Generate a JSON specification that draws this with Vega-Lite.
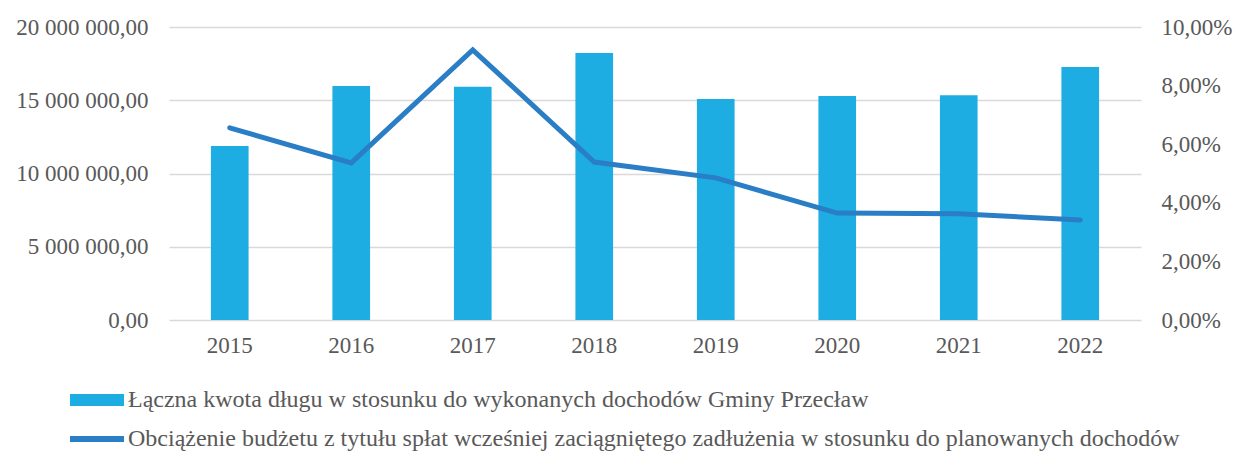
{
  "$schema": "https://vega.github.io/schema/vega-lite/v6.json",
  "width": 972,
  "height": 293,
  "autosize": {"type": "none"},
  "padding": {"left": 169, "top": 27, "right": 93, "bottom": 133},
  "background": "white",
  "config": {
    "view": {"stroke": null},
    "font": "Liberation Serif",
    "axis": {"labelFont": "Liberation Serif", "labelColor": "#595959", "labelFontSize": 23, "ticks": false, "domain": false, "gridColor": "#d9d9d9", "gridWidth": 1.5}
  },
  "data": {
    "values": [
      {"year": "2015", "debt": 11880000, "burden": 6.56},
      {"year": "2016", "debt": 15970000, "burden": 5.36},
      {"year": "2017", "debt": 15930000, "burden": 9.22},
      {"year": "2018", "debt": 18230000, "burden": 5.39},
      {"year": "2019", "debt": 15080000, "burden": 4.85},
      {"year": "2020", "debt": 15290000, "burden": 3.65},
      {"year": "2021", "debt": 15340000, "burden": 3.63},
      {"year": "2022", "debt": 17270000, "burden": 3.41}
    ]
  },
  "encoding": {
    "x": {
      "field": "year", "type": "ordinal", "title": null,
      "scale": {"paddingInner": 0.69, "paddingOuter": 0.345},
      "axis": {"labelAngle": 0, "labelPadding": 14, "grid": false}
    }
  },
  "layer": [
    {
      "transform": [{"calculate": "'Łączna kwota długu w stosunku do wykonanych dochodów Gminy Przecław'", "as": "series"}],
      "mark": {"type": "bar", "color": "#1EADE2"},
      "encoding": {
        "y": {
          "field": "debt", "type": "quantitative", "title": null,
          "scale": {"domain": [0, 20000000]},
          "axis": {"values": [0, 5000000, 10000000, 15000000, 20000000], "labelExpr": "replace(replace(format(datum.value, ',.2f'), regexp(',', 'g'), ' '), '.', ',')", "labelPadding": 21}
        },
        "color": {
          "field": "series", "type": "nominal",
          "scale": {"domain": ["Łączna kwota długu w stosunku do wykonanych dochodów Gminy Przecław", "Obciążenie budżetu z tytułu spłat wcześniej zaciągniętego zadłużenia w stosunku do planowanych dochodów"], "range": ["#1EADE2", "#2A7EC6"]},
          "legend": {
            "title": null, "orient": "none", "legendX": -99, "legendY": 346, "direction": "vertical",
            "labelFont": "Liberation Serif", "labelFontSize": 24, "labelColor": "#595959", "labelOffset": 4,
            "symbolSize": 2916, "rowPadding": -12, "labelLimit": 1200,
            "encode": {"symbols": {"update": {"shape": {"signal": "datum.index == 0 ? 'M-1,-0.22H1V0.22H-1Z' : 'M-1,-0.11H1V0.11H-1Z'"}, "strokeWidth": {"value": 0}}}}
          }
        }
      }
    },
    {
      "transform": [{"calculate": "'Obciążenie budżetu z tytułu spłat wcześniej zaciągniętego zadłużenia w stosunku do planowanych dochodów'", "as": "series"}],
      "mark": {"type": "line", "strokeWidth": 5, "strokeCap": "round", "strokeJoin": "miter"},
      "encoding": {
        "y": {
          "field": "burden", "type": "quantitative", "title": null,
          "scale": {"domain": [0, 10]},
          "axis": {"orient": "right", "grid": false, "values": [0, 2, 4, 6, 8, 10], "labelExpr": "replace(format(datum.value, '.2f'), '.', ',') + '%'", "labelPadding": 20}
        },
        "color": {"field": "series", "type": "nominal"}
      }
    }
  ],
  "resolve": {"scale": {"y": "independent"}}
}
